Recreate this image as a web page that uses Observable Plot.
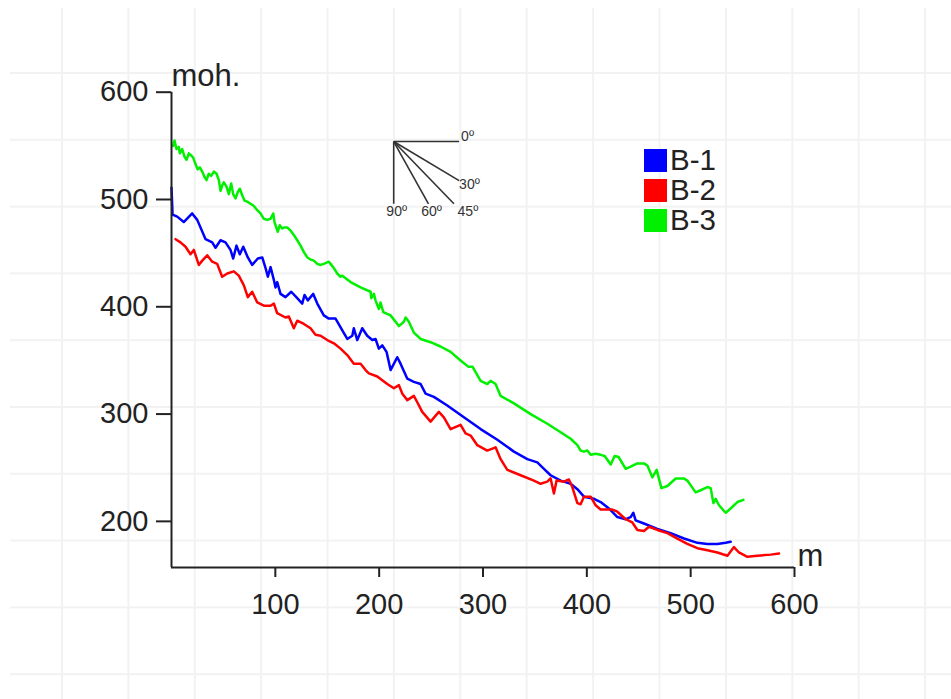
<!DOCTYPE html>
<html>
<head>
<meta charset="utf-8">
<script src="https://cdn.jsdelivr.net/npm/d3@7"></script>
<script src="https://cdn.jsdelivr.net/npm/@observablehq/plot@0.6"></script>
<style>
  html, body { margin: 0; padding: 0; background: #fff; }
  #wrap { position: relative; width: 951px; height: 699px; overflow: hidden; font-family: "Liberation Sans", Arial, sans-serif; }
  #grid { position: absolute; left: 10px; top: 8px; right: 0; bottom: 0;
    background-image: linear-gradient(to right, #f2f2f2 2px, transparent 2px), linear-gradient(to bottom, #f2f2f2 2px, transparent 2px);
    background-size: 66.4px 66.8px; background-position: 51px 64px; }
  #chart { position: absolute; left: 0; top: 0; }
  #legend { position: absolute; left: 644px; top: 145px; }
  .row { display: flex; align-items: center; height: 30px; }
  .sw { width: 23px; height: 23px; margin-right: 3px; }
  .lab { font-size: 29.5px; color: #222; line-height: 30px; }
</style>
</head>
<body>
<div id="wrap">
  <div id="grid"></div>
  <div id="chart"></div>
  <div id="legend"></div>
</div>
<script>
// Series names and colours
const seriesNames = ["B-1", "B-2", "B-3"];
const seriesColors = ["#0000ff", "#ff0000", "#00f000"];

// B-1 profile: [distance m, elevation moh.]
const b1 = [[0,511],[0.5,499],[1,486],[5.5,484],[11.8,479],[19.9,487],[24.8,481],[32.8,463],[39.2,460],[42.4,455],[47.2,462],[52,460],[56.8,453],[59.4,445],[62.6,457],[65.8,449],[69.1,456],[73.5,446],[77.7,439],[83.1,445],[87.4,446],[90.6,436],[92.8,428],[95.4,437],[98.6,425],[100.2,418],[101.8,423],[105,412],[109.8,409],[115.3,414],[121.1,408],[125.9,403],[128.1,411],[131.3,406],[136.5,412],[140.4,403],[146.7,392],[151.5,389],[158,389],[164.5,378],[169.3,370],[174.1,373],[175.6,380],[178.9,369],[183.7,380],[188.5,373],[193.4,369],[196.5,370],[199.7,361],[203,364],[207.1,358],[211,341],[217.4,353],[220.6,347],[227.1,333],[233.4,330],[239.9,328],[244.7,319],[252.7,316],[265.6,308],[281.6,297],[297.7,286],[313.8,276],[329.8,265],[342.7,258],[352.3,255],[358.7,249],[365.1,243],[374.8,238],[384.4,235],[390.9,230],[397.2,223],[406.9,221],[413.3,218],[421.3,212],[429.4,204],[437.4,202],[442.2,204],[444.8,208],[447,201],[455,198],[467.9,193],[480.7,189],[493.6,184],[506.5,180],[516.1,179],[525.7,179],[533.7,180],[538.5,181]];

// B-2 profile
const b2 = [[3.9,463],[8.7,460],[13.5,456],[18.3,449],[21.5,453],[26.3,439],[29.6,443],[34.4,448],[39.2,442],[44,440],[48.8,428],[53.7,431],[60,433],[64.8,429],[69.7,420],[73.5,409],[77.7,414],[82.6,404],[88.9,401],[95.4,401],[98.6,403],[101.8,394],[109.8,390],[113,391],[117.8,380],[121.1,387],[127.5,384],[133.9,380],[138.7,374],[143.6,373],[150,369],[156.4,366],[162.8,361],[169.3,355],[175.6,347],[182.1,347],[186.9,341],[190.1,338],[198.2,335],[207.8,328],[214.2,324],[219,327],[222.3,319],[227.1,313],[233.4,317],[236.7,311],[241.5,302],[249.5,293],[257.5,302],[262.3,297],[268.8,286],[278.4,290],[283.2,282],[288.1,280],[294.5,271],[304.1,266],[312.1,269],[317,258],[323.4,248],[336.2,243],[349,238],[355.5,235],[361.9,237],[365.1,240],[368.3,226],[370.9,238],[377.9,237],[382.7,239],[386,232],[390.9,217],[394,216],[397.2,223],[403.7,223],[408.5,215],[413.3,211],[424.6,211],[429.4,209],[437.4,202],[443.8,199],[448.7,192],[455,191],[459.9,195],[467.9,192],[477.6,189],[487.2,184],[496.8,179],[506.5,175],[516.1,173],[525.7,171],[535.4,168],[541.7,176],[546.5,171],[554.6,167],[564.2,168],[577.1,169],[585.1,170]];

// B-3 profile
const b3 = [[1.6,550],[2.9,555],[4.8,547],[7,549],[8,543],[10.3,547],[12.5,540],[14.5,537],[16.7,543],[19,541],[20.9,539],[23.1,533],[25.3,528],[27.3,530],[29.6,526],[31.8,521],[33.7,518],[35.9,524],[38.2,522],[40.8,526],[43.4,524],[45.6,518],[47.2,508],[48.8,513],[50.4,516],[53,512],[55.2,505],[57.5,515],[59.4,505],[61.7,501],[63.9,507],[65.8,510],[68.1,504],[70.3,499],[72.9,498],[76.1,496],[79.3,494],[82.6,490],[85.7,487],[88.9,482],[92.2,481],[95.4,482],[98,487],[99.2,479],[101.2,473],[102.4,470],[104.3,476],[106.6,473],[108.9,474],[111.5,474],[114.6,471],[117.8,467],[121.1,462],[124.3,457],[127.5,451],[130.8,446],[133.9,444],[137.1,443],[140.4,440],[143.6,439],[146.7,440],[151.5,442],[153.2,440],[156.4,436],[159.6,431],[162.8,428],[164.5,429],[172.5,423],[182.1,418],[191.7,414],[192.4,408],[194.9,412],[196.5,406],[199.7,398],[201.3,404],[204,395],[211,392],[219,382],[223.8,386],[225.5,390],[228.6,386],[233.4,376],[239.9,370],[249.5,367],[259.1,363],[268.8,358],[278.4,350],[286.1,344],[290,344],[297.7,331],[304.1,328],[307.3,331],[312.1,328],[316.9,317],[329.8,310],[345.9,300],[362,291],[374.8,283],[384.4,277],[390.9,271],[394,266],[397.2,265],[400.5,266],[403.7,262],[408.5,263],[413.3,262],[417.2,261],[423,253],[426.8,261],[430.6,260],[437.4,249],[442.2,251],[448.7,254],[455,254],[458.3,252],[463.1,241],[467.3,248],[471.8,231],[477.6,233],[485.6,240],[493.6,240],[496.8,238],[504.8,227],[509.6,229],[516.1,232],[519.3,231],[521.9,217],[524.1,221],[527.3,215],[533.7,208],[538.5,212],[545,218],[550.8,220]];

// Axis ticks
const xTicks = [100, 200, 300, 400, 500, 600];
const yTicks = [200, 300, 400, 500, 600];

// Slope indicator (angles in degrees)
const slopeAngles = [0, 30, 45, 60, 90];
const slopeLabels = ["0º", "30º", "45º", "60º", "90º"];

const seriesData = [b1, b2, b3];
const rows = [];
seriesData.forEach((s, k) => s.forEach(([x, y]) => rows.push({x, y, series: seriesNames[k]})));

// indicator geometry in data units (origin, box)
const ox = 214, oy = 554, boxW = 63, boxH = 58;
const slope = slopeAngles.map((a, i) => {
  const t = Math.tan(a * Math.PI / 180);
  let dx = a === 90 ? 0 : Math.min(boxW, boxH / t);
  let dy = a === 90 ? boxH : dx * t;
  return {a, label: slopeLabels[i], x2: ox + dx, y2: oy - dy};
});

const font = "'Liberation Sans', Arial, sans-serif";
const chart = Plot.plot({
  width: 951,
  height: 699,
  marginLeft: 171,
  marginRight: 157,
  marginTop: 91.7,
  marginBottom: 132,
  style: {background: "transparent", fontFamily: font, fontSize: "28px", color: "#222", overflow: "visible"},
  x: {domain: [0, 600]},
  y: {domain: [157, 600]},
  color: {domain: seriesNames, range: seriesColors},
  marks: [
    Plot.line(rows, {x: "x", y: "y", z: "series", stroke: "series", strokeWidth: 2.5, strokeLinejoin: "round"}),
    Plot.link(slope, {x1: () => ox, y1: () => oy, x2: "x2", y2: "y2", stroke: "#333", strokeWidth: 1.6}),
    Plot.text(slope.filter(d => d.a === 0), {x: "x2", y: "y2", text: "label", textAnchor: "start", dx: 2, dy: -5, fontSize: 14, fill: "#333"}),
    Plot.text(slope.filter(d => d.a === 30), {x: "x2", y: "y2", text: "label", textAnchor: "start", dx: 0, dy: 4, fontSize: 14, fill: "#333"}),
    Plot.text(slope.filter(d => d.a === 45), {x: "x2", y: "y2", text: "label", textAnchor: "middle", lineAnchor: "top", dx: 14, dy: 2, fontSize: 14, fill: "#333"}),
    Plot.text(slope.filter(d => d.a >= 60), {x: "x2", y: "y2", text: "label", textAnchor: "middle", lineAnchor: "top", dx: 3, dy: 2, fontSize: 14, fill: "#333"}),
    Plot.ruleX([0], {y1: 157, y2: 600, stroke: "#222", strokeWidth: 2}),
    Plot.ruleY([157], {x1: 0, x2: 600, stroke: "#222", strokeWidth: 2}),
    Plot.axisX({ticks: xTicks, tickSize: 10, tickPadding: 16, label: null, strokeWidth: 2, stroke: "#222", fontSize: 29}),
    Plot.axisY({ticks: yTicks, tickSize: 15, tickPadding: 8, label: null, strokeWidth: 2, stroke: "#222", fontSize: 29}),
    Plot.text(["moh."], {x: 0, y: 600, text: d => d, textAnchor: "start", lineAnchor: "bottom", dx: 0, dy: -6, fontSize: 31, fill: "#222"}),
    Plot.text(["m"], {x: 600, y: 157, text: d => d, textAnchor: "start", lineAnchor: "bottom", dx: 3, dy: -2, fontSize: 31, fill: "#222"})
  ]
});
document.getElementById("chart").appendChild(chart);

const legend = document.getElementById("legend");
seriesNames.forEach((name, i) => {
  const row = document.createElement("div");
  row.className = "row";
  const sw = document.createElement("span");
  sw.className = "sw";
  sw.style.background = seriesColors[i];
  const lab = document.createElement("span");
  lab.className = "lab";
  lab.textContent = name;
  row.appendChild(sw);
  row.appendChild(lab);
  legend.appendChild(row);
});
</script>
</body>
</html>
